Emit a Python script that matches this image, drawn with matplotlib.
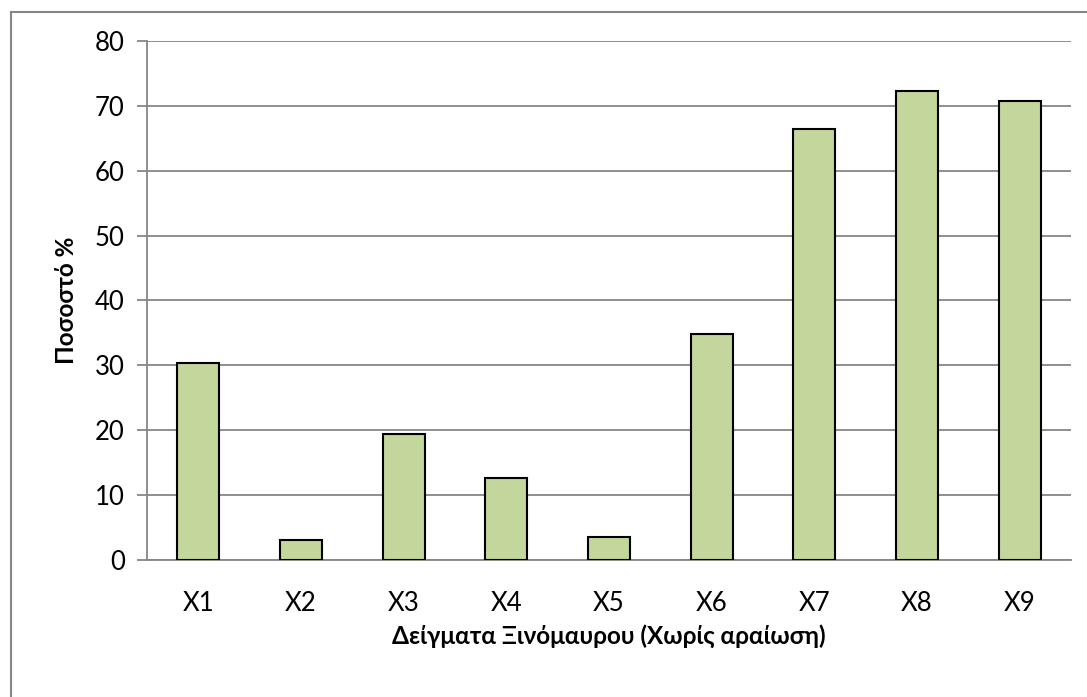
import matplotlib.pyplot as plt
from matplotlib.lines import Line2D

plt.rcParams['font.family'] = ['Lato', 'DejaVu Sans']

samples = ['X1', 'X2', 'X3', 'X4', 'X5', 'X6', 'X7', 'X8', 'X9']
percent = [30.3, 3.1, 19.4, 12.6, 3.6, 34.9, 66.5, 72.3, 70.8]

grid_col = '#868686'

fig = plt.figure(figsize=(10.87, 6.97), dpi=100)
ax = fig.add_axes([0.1352, 0.1966, 0.8501, 0.7446])

x = range(len(samples))
ax.bar(x, percent, width=0.41, color='#C3D69B', edgecolor='black',
       linewidth=1.5, zorder=3)

ax.set_xlim(-0.5, len(samples) - 0.5)
ax.set_ylim(0, 80)
ax.set_yticks(range(0, 81, 10))
ax.set_xticks(list(x))
ax.set_xticklabels(samples)

ax.yaxis.grid(True, color=grid_col, linewidth=1.3, zorder=0)
for s in ['top', 'right']:
    ax.spines[s].set_visible(False)
ax.spines['left'].set_color(grid_col)
ax.spines['bottom'].set_color(grid_col)
ax.spines['left'].set_linewidth(1.3)
ax.spines['bottom'].set_linewidth(1.3)

ax.tick_params(axis='y', length=7, width=1.3, color=grid_col,
               labelsize=18.5, pad=9)
ax.tick_params(axis='x', length=0, labelsize=18.5, pad=22)

ax.set_ylabel('Ποσοστό %', fontsize=17.5, fontweight='bold', labelpad=12)
ax.set_xlabel('Δείγματα Ξινόμαυρου (Χωρίς αραίωση)', fontsize=17.5,
              fontweight='bold', labelpad=6)

# outer chart frame (right and bottom edges fall outside the canvas)
fx, fy = 10.5 / 1087, 1 - 11.5 / 697
fig.add_artist(Line2D([fx, 1], [fy, fy], transform=fig.transFigure,
                      color=grid_col, linewidth=1.5))
fig.add_artist(Line2D([fx, fx], [0, fy], transform=fig.transFigure,
                      color=grid_col, linewidth=1.5))

fig.savefig('out.png', dpi=100)
